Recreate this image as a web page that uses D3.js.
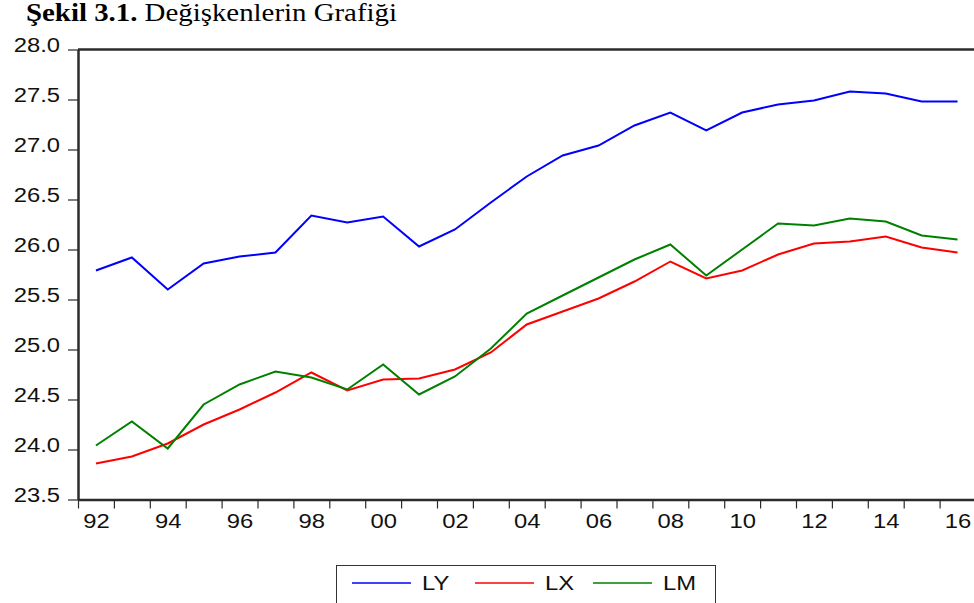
<!DOCTYPE html>
<html>
<head>
<meta charset="utf-8">
<script src="https://cdn.jsdelivr.net/npm/d3@7"></script>
<style>
  body { margin: 0; background: #fff; }
  svg { display: block; }
  .axis text { font-family: "Liberation Sans", Arial, sans-serif; font-size: 19.5px; fill: #111; }
  .axis line, .axis path { stroke: #2b2b2b; }
</style>
</head>
<body>
<script>
const years = d3.range(1992, 2017);
const y_ticks = [23.5, 24.0, 24.5, 25.0, 25.5, 26.0, 26.5, 27.0, 27.5, 28.0];

const ly = [25.79, 25.92, 25.60, 25.86, 25.93, 25.97, 26.34, 26.27, 26.33, 26.03,
            26.20, 26.47, 26.73, 26.94, 27.04, 27.24, 27.37, 27.19, 27.37, 27.45,
            27.49, 27.58, 27.56, 27.48, 27.48];
const lx = [23.86, 23.93, 24.06, 24.25, 24.40, 24.57, 24.77, 24.59, 24.70, 24.71,
            24.80, 24.97, 25.25, 25.38, 25.51, 25.68, 25.88, 25.71, 25.79, 25.95,
            26.06, 26.08, 26.13, 26.02, 25.97];
const lm = [24.04, 24.28, 24.01, 24.45, 24.65, 24.78, 24.72, 24.60, 24.85, 24.55,
            24.73, 25.01, 25.36, 25.54, 25.72, 25.90, 26.05, 25.74, 26.00, 26.26,
            26.24, 26.31, 26.28, 26.14, 26.10];

const series = [
  {name: 'LY', values: ly, color: '#0000ff'},
  {name: 'LX', values: lx, color: '#ff0000'},
  {name: 'LM', values: lm, color: '#008000'}
];

const stretch = 1.22;

const svg = d3.select('body').append('svg')
  .attr('width', 974)
  .attr('height', 603);

// year edges -> pixels, points sit in the middle of each year
const x = d3.scaleLinear().domain([1992, 2017]).range([78, 975.5]);
const y = d3.scaleLinear().domain([23.5, 28.0]).range([499.5, 49.5]);

// title
const title = svg.append('text')
  .attr('x', 26)
  .attr('y', 21)
  .style('font-family', '"Liberation Serif", "Times New Roman", serif')
  .style('font-size', '25px')
  .attr('fill', '#000');
title.append('tspan').style('font-weight', 'bold').text('Şekil 3.1.');
title.append('tspan').text(' Değişkenlerin Grafiği');
title.attr('textLength', 371).attr('lengthAdjust', 'spacingAndGlyphs');

// frame top line
svg.append('line')
  .attr('x1', x.range()[0]).attr('x2', 974)
  .attr('y1', y(28)).attr('y2', y(28))
  .attr('stroke', '#2b2b2b').attr('stroke-width', 2.5);

// y axis
const y_ax = svg.append('g')
  .attr('class', 'axis')
  .attr('transform', 'translate(' + x.range()[0] + ',0)')
  .call(d3.axisLeft(y).tickValues(y_ticks).tickSize(10).tickSizeOuter(0).tickPadding(8)
    .tickFormat(d3.format('.1f')));
y_ax.select('.domain').attr('stroke-width', 2.5);
y_ax.selectAll('.tick line').attr('stroke-width', 1.2);
y_ax.selectAll('.tick text').attr('dy', '0.12em');

// x axis: tick marks on year edges
const x_ax = svg.append('g')
  .attr('class', 'axis')
  .attr('transform', 'translate(0,' + y.range()[0] + ')')
  .call(d3.axisBottom(x).tickValues(d3.range(1992, 2018)).tickSize(9).tickSizeOuter(0)
    .tickFormat(''));
x_ax.select('.domain').attr('stroke-width', 2.5);
x_ax.selectAll('.tick line').attr('stroke-width', 1.2);

// x labels every two years, centred in the year
const x_lab = svg.append('g')
  .attr('class', 'axis')
  .attr('transform', 'translate(0,' + y.range()[0] + ')')
  .call(d3.axisBottom(x).tickValues(years.filter((d) => d % 2 == 0).map((d) => d + 0.5))
    .tickSize(0).tickPadding(15)
    .tickFormat((d) => String(Math.floor(d) % 100).padStart(2, '0')));
x_lab.select('.domain').remove();

// series lines
const line = d3.line()
  .x((d, i) => x(years[i] + 0.5))
  .y((d) => y(d));

svg.selectAll('.series')
  .data(series)
  .enter()
  .append('path')
    .attr('class', 'series')
    .attr('d', (d) => line(d.values))
    .attr('fill', 'none')
    .attr('stroke', (d) => d.color)
    .attr('stroke-width', 2)
    .attr('stroke-linejoin', 'miter');

// legend
const leg = svg.append('g');
leg.append('rect')
  .attr('x', 336.5).attr('y', 565.5)
  .attr('width', 379).attr('height', 40)
  .attr('fill', 'none')
  .attr('stroke', '#333')
  .attr('stroke-width', 1);

const leg_x = [352, 475, 593];
series.forEach(function(s, i) {
  leg.append('line')
    .attr('x1', leg_x[i]).attr('x2', leg_x[i] + 59)
    .attr('y1', 583).attr('y2', 583)
    .attr('stroke', s.color)
    .attr('stroke-width', 1.5);
  leg.append('text')
    .attr('class', 'leg_text')
    .attr('x', leg_x[i] + 70)
    .attr('y', 590)
    .style('font-family', '"Liberation Sans", Arial, sans-serif')
    .style('font-size', '19.5px')
    .attr('fill', '#111')
    .text(s.name);
});

// the original text is a little wider than the font
svg.selectAll('.axis text, .leg_text').each(function() {
  const w = this.getComputedTextLength();
  if (w > 0) {
    d3.select(this)
      .attr('textLength', w * stretch)
      .attr('lengthAdjust', 'spacingAndGlyphs');
  }
});
</script>
</body>
</html>
